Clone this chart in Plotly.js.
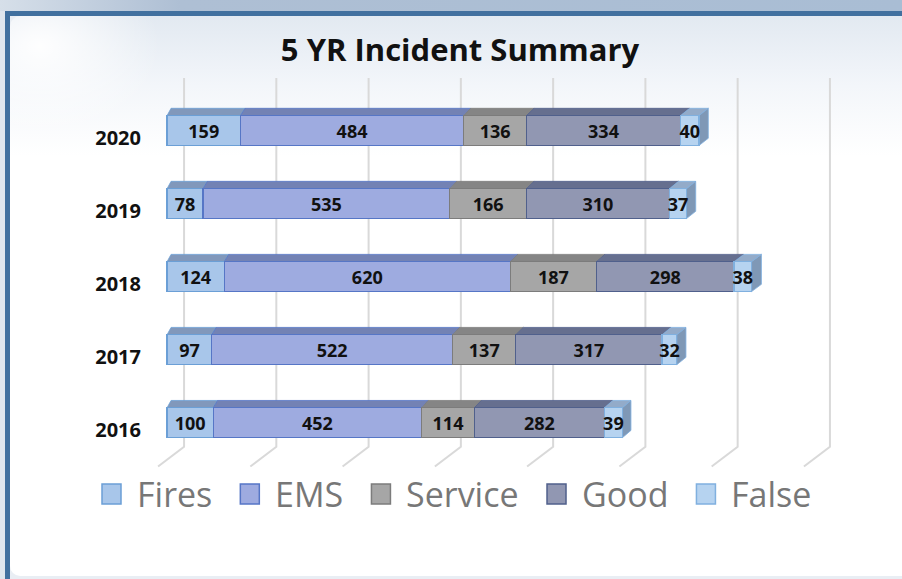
<!DOCTYPE html>
<html>
<head>
<meta charset="utf-8">
<script src="https://cdn.plot.ly/plotly-3.0.1.min.js"></script>
<style>
  html, body { margin: 0; padding: 0; }
  body { width: 902px; height: 579px; position: relative; overflow: hidden; background: #dfe6ee; }
  #band { position: absolute; left: 0; top: 0; width: 902px; height: 11px;
    background: linear-gradient(to right, #d6dfe9 0px, #aebfd4 180px, #a9bdd4 100%); }
  #frame { position: absolute; left: 5px; top: 11px; width: 897px; height: 568px;
    border-top: 5px solid #41709f; border-left: 5px solid #41709f; background: #e9eef4; }
  #inner { position: absolute; left: 10px; top: 16px; width: 892px; height: 560px;
    border-radius: 10px 0 0 10px;
    background:
      radial-gradient(ellipse 120px 90px at 30px 30px, rgba(255,255,255,0.95), rgba(255,255,255,0) 100%),
      linear-gradient(to bottom, #e2e9f1 0px, #f3f6fa 70px, #ffffff 140px); }
  #chart { position: absolute; left: 0; top: 0; width: 902px; height: 579px; }
</style>
</head>
<body>
<div id="band"></div>
<div id="frame"></div>
<div id="inner"></div>
<div id="chart"></div>
<script>
const years = ['2016', '2017', '2018', '2019', '2020'];
const fires = [100, 97, 124, 78, 159];
const ems = [452, 522, 620, 535, 484];
const service = [114, 137, 187, 166, 136];
const good = [282, 317, 298, 310, 334];
const falseAlarms = [39, 32, 38, 37, 40];
const gridValues = [0, 200, 400, 600, 800, 1000, 1200, 1400];

const FONT = '"Open Sans", "DejaVu Sans", sans-serif';
const W = 902, H = 579;
const M = { l: 144, r: 66, t: 78, b: 111 };
const PX_PER_UNIT = 0.4614;   // horizontal scale of the value axis
const BAR_WIDTH = 0.41;

const series = [
  { name: 'Fires', values: fires, face: '#a8c6ea', edge: '#6b9fd6', top: '#8198bb' },
  { name: 'EMS', values: ems, face: '#9eabe0', edge: '#5676c6', top: '#7382b4' },
  { name: 'Service', values: service, face: '#a6a6a6', edge: '#7c7c7c', top: '#858585' },
  { name: 'Good', values: good, face: '#9197b2', edge: '#50608c', top: '#666f8f' },
  { name: 'False', values: falseAlarms, face: '#b6d3f0', edge: '#80b0df', top: '#93abc9', side: '#7f98b6' },
];

const yPos = years.map((_, i) => i);

// depth of the 3D top face grows a little to the right (perspective)
function depthX(x) {
  return (4 + 6 * x / 1300) / PX_PER_UNIT;
}
const DEPTH_Y = 0.1;

// pixel -> paper helpers for the hand-made legend
const plotW = W - M.l - M.r;
const plotH = H - M.t - M.b;
const paperX = (px) => (px - M.l) / plotW;
const paperY = (py) => (H - M.b - py) / plotH;

const traces = series.map((s) => ({
  type: 'bar',
  orientation: 'h',
  name: s.name,
  x: s.values,
  y: yPos,
  width: BAR_WIDTH,
  marker: { color: s.face, line: { color: s.edge, width: 1.2 } },
  text: s.values.map(String),
  textposition: 'inside',
  insidetextanchor: 'middle',
  constraintext: 'none',
  textangle: 0,
  textfont: { family: FONT, size: 18, color: '#111', weight: 'bold' },
  hoverinfo: 'skip',
  showlegend: false,
}));

const shapes = [];
const annotations = [];

// back wall gridlines with the floor slant
gridValues.forEach((v) => {
  const back = v + 17 / PX_PER_UNIT;
  const front = back - 26 / PX_PER_UNIT;
  shapes.push({
    type: 'path', xref: 'x', yref: 'y', layer: 'below',
    path: `M ${back},4.72 L ${back},-0.33 L ${front},-0.6`,
    line: { color: '#d9d9d9', width: 2 },
  });
});

// top faces and the right side face of each stacked bar
years.forEach((_, i) => {
  let start = 0;
  const yTop = i + BAR_WIDTH / 2;
  const yBot = i - BAR_WIDTH / 2;
  series.forEach((s, k) => {
    const end = start + s.values[i];
    shapes.push({
      type: 'path', xref: 'x', yref: 'y', layer: 'below',
      path: `M ${start},${yTop} L ${start + depthX(start)},${yTop + DEPTH_Y} ` +
            `L ${end + depthX(end)},${yTop + DEPTH_Y} L ${end},${yTop} Z`,
      fillcolor: s.top,
      line: { color: s.edge, width: 0.8 },
    });
    if (k === series.length - 1) {
      shapes.push({
        type: 'path', xref: 'x', yref: 'y', layer: 'below',
        path: `M ${end},${yTop} L ${end + depthX(end)},${yTop + DEPTH_Y} ` +
              `L ${end + depthX(end)},${yBot + DEPTH_Y} L ${end},${yBot} Z`,
        fillcolor: s.side,
        line: { color: s.edge, width: 0.8 },
      });
    }
    start = end;
  });
});

// legend: square swatch + grey label, laid out by measured text width
const LEGEND_FONT_SIZE = 34;
const ctx = document.createElement('canvas').getContext('2d');
ctx.font = `${LEGEND_FONT_SIZE}px "Open Sans"`;
let legendX = 102;
const legendY = 494;
series.forEach((s) => {
  shapes.push({
    type: 'rect', xref: 'paper', yref: 'paper', layer: 'above',
    x0: paperX(legendX), x1: paperX(legendX + 19),
    y0: paperY(legendY + 10), y1: paperY(legendY - 10),
    fillcolor: s.face,
    line: { color: s.edge, width: 1.5 },
  });
  annotations.push({
    xref: 'paper', yref: 'paper',
    x: paperX(legendX + 33), y: paperY(legendY),
    xanchor: 'left', yanchor: 'middle',
    text: s.name, showarrow: false,
    font: { family: FONT, size: LEGEND_FONT_SIZE, color: '#777' },
  });
  legendX += 33 + ctx.measureText(s.name).width + 30;
});

const layout = {
  width: W,
  height: H,
  margin: M,
  paper_bgcolor: 'rgba(0,0,0,0)',
  plot_bgcolor: 'rgba(0,0,0,0)',
  font: { family: FONT, color: '#111' },
  barmode: 'stack',
  bargap: 0,
  showlegend: false,
  title: {
    text: '<b>5 YR Incident Summary</b>',
    font: { family: FONT, size: 31, color: '#111' },
    x: 460 / W,
    xanchor: 'center',
    y: 1 - 50 / H,
    yanchor: 'middle',
  },
  xaxis: {
    range: [-50, 1450],
    visible: false,
    showgrid: false,
    zeroline: false,
    fixedrange: true,
  },
  yaxis: {
    range: [-0.62, 4.72],
    tickvals: yPos,
    ticktext: years,
    tickfont: { family: FONT, size: 20, color: '#111', weight: 'bold' },
    showgrid: false,
    zeroline: false,
    showline: false,
    ticks: '',
    ticklabelshift: 7,
    ticklabelstandoff: 2,
    fixedrange: true,
  },
  uniformtext: { mode: 'show', minsize: 18 },
  shapes: shapes,
  annotations: annotations,
};

Plotly.newPlot('chart', traces, layout, { displayModeBar: false, staticPlot: true });
</script>
</body>
</html>
